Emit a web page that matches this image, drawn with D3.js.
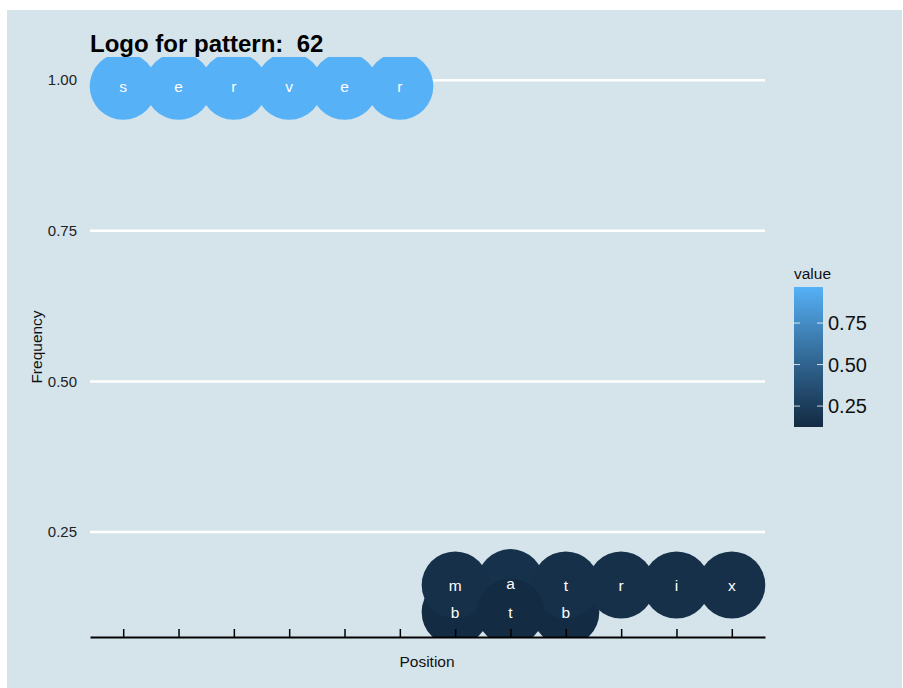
<!DOCTYPE html>
<html>
<head>
<meta charset="utf-8">
<script src="https://cdn.jsdelivr.net/npm/d3@7"></script>
<style>
  body { margin: 0; background: #fff; }
  text { font-family: "Liberation Sans", Arial, sans-serif; }
</style>
</head>
<body>
<div class="chart"></div>
<script>
// letters of the logo, their position, frequency (y) and fill value
var letters   = ["s", "e", "r", "v", "e", "r", "m", "a", "t", "r", "i", "x", "b", "t", "b"];
var positions = [1, 2, 3, 4, 5, 6, 7, 8, 9, 10, 11, 12, 7, 8, 9];
var freqs     = [0.99, 0.99, 0.99, 0.99, 0.99, 0.99, 0.162, 0.166, 0.162, 0.162, 0.162, 0.162, 0.117, 0.117, 0.117];
var values    = [0.967, 0.967, 0.967, 0.967, 0.967, 0.967, 0.16, 0.165, 0.16, 0.16, 0.16, 0.16, 0.124, 0.124, 0.124];
var yTicks = [0.25, 0.5, 0.75, 1.0];
var legendTicks = [0.25, 0.5, 0.75];

var width = 903, height = 688;
var panel = {left: 90, right: 765, top: 57, bottom: 637};

var svg = d3.select(".chart").append("svg")
	.attr("width", width).attr("height", height);

svg.append("rect").attr("x", 7).attr("y", 10)
	.attr("width", 895).attr("height", 678).attr("fill", "#d5e4eb");

var x = d3.scaleLinear().domain([0.4, 12.6]).range([panel.left, panel.right]);
var y = d3.scaleLinear().domain([0.0757, 1.0385]).range([panel.bottom, panel.top]);
var color = d3.scaleLinear().domain([0.124, 0.967]).range(["#132B43", "#56B1F7"])
	.interpolate(d3.interpolateLab);

// grid
svg.append("g").selectAll("line").data(yTicks).join("line")
	.attr("x1", panel.left).attr("x2", panel.right)
	.attr("y1", d => y(d)).attr("y2", d => y(d))
	.attr("stroke", "#fff").attr("stroke-width", 2.5);

svg.append("g").selectAll("text").data(yTicks).join("text")
	.attr("x", 77).attr("y", d => y(d)).attr("dy", "0.35em")
	.attr("text-anchor", "end").attr("font-size", 15).attr("fill", "#222")
	.text(d => d3.format(".2f")(d));

// circles
svg.append("clipPath").attr("id", "clip").append("rect")
	.attr("x", panel.left - 5).attr("y", panel.top)
	.attr("width", panel.right - panel.left + 10).attr("height", panel.bottom - panel.top);

var rows = letters.map(function(l, i){
	return {letter: l, pos: positions[i], freq: freqs[i], value: values[i]};
});
rows.sort(function(a, b){ return d3.ascending(a.letter, b.letter); });

var marks = svg.append("g").attr("clip-path", "url(#clip)");
marks.selectAll("circle").data(rows).join("circle")
	.attr("cx", d => x(d.pos)).attr("cy", d => y(d.freq))
	.attr("r", 33.5).attr("fill", d => color(d.value));
marks.selectAll("text").data(rows).join("text")
	.attr("x", d => x(d.pos)).attr("y", d => y(d.freq))
	.attr("dy", "0.4em").attr("text-anchor", "middle")
	.attr("font-size", 15.5).attr("fill", "#fff").text(d => d.letter);

// x axis
svg.append("g").attr("transform", "translate(0," + panel.bottom + ")")
	.call(d3.axisBottom(x).tickValues(d3.range(1, 13)).tickSize(-8).tickSizeOuter(0).tickFormat(""))
	.call(a => a.select(".domain").attr("stroke", "#000").attr("stroke-width", 1.8))
	.call(a => a.selectAll(".tick line").attr("stroke", "#000").attr("stroke-width", 1.5));

svg.append("text").attr("x", 427).attr("y", 667).attr("text-anchor", "middle")
	.attr("font-size", 15.5).attr("fill", "#111").text("Position");

svg.append("text").attr("transform", "translate(42,347) rotate(-90)")
	.attr("text-anchor", "middle").attr("font-size", 15.5).attr("fill", "#111").text("Frequency");

svg.append("text").attr("x", 90).attr("y", 52).attr("font-size", 24)
	.attr("font-weight", "bold").attr("fill", "#000").style("white-space", "pre")
	.text("Logo for pattern:  62");

// legend
var lg = svg.append("g");
var ly = d3.scaleLinear().domain([0.124, 0.967]).range([427, 287]);
var grad = svg.append("defs").append("linearGradient").attr("id", "grad")
	.attr("x1", 0).attr("x2", 0).attr("y1", 1).attr("y2", 0);
grad.selectAll("stop").data(d3.range(0, 1.001, 0.1)).join("stop")
	.attr("offset", d => d).attr("stop-color", d => color(0.124 + d * (0.967 - 0.124)));
lg.append("rect").attr("x", 794).attr("y", 287).attr("width", 29).attr("height", 140)
	.attr("fill", "url(#grad)");
lg.selectAll(".tl").data(legendTicks).join("line").attr("class", "tl")
	.attr("x1", 794).attr("x2", 800).attr("y1", d => ly(d)).attr("y2", d => ly(d))
	.attr("stroke", "#fff").attr("stroke-opacity", 0.8);
lg.selectAll(".tr").data(legendTicks).join("line").attr("class", "tr")
	.attr("x1", 817).attr("x2", 823).attr("y1", d => ly(d)).attr("y2", d => ly(d))
	.attr("stroke", "#fff").attr("stroke-opacity", 0.8);
lg.selectAll("text.lab").data(legendTicks).join("text").attr("class", "lab")
	.attr("x", 828).attr("y", d => ly(d)).attr("dy", "0.36em")
	.attr("font-size", 20).attr("fill", "#111").text(d => d3.format(".2f")(d));
lg.append("text").attr("x", 794).attr("y", 279).attr("font-size", 15.5)
	.attr("fill", "#111").text("value");
</script>
</body>
</html>
